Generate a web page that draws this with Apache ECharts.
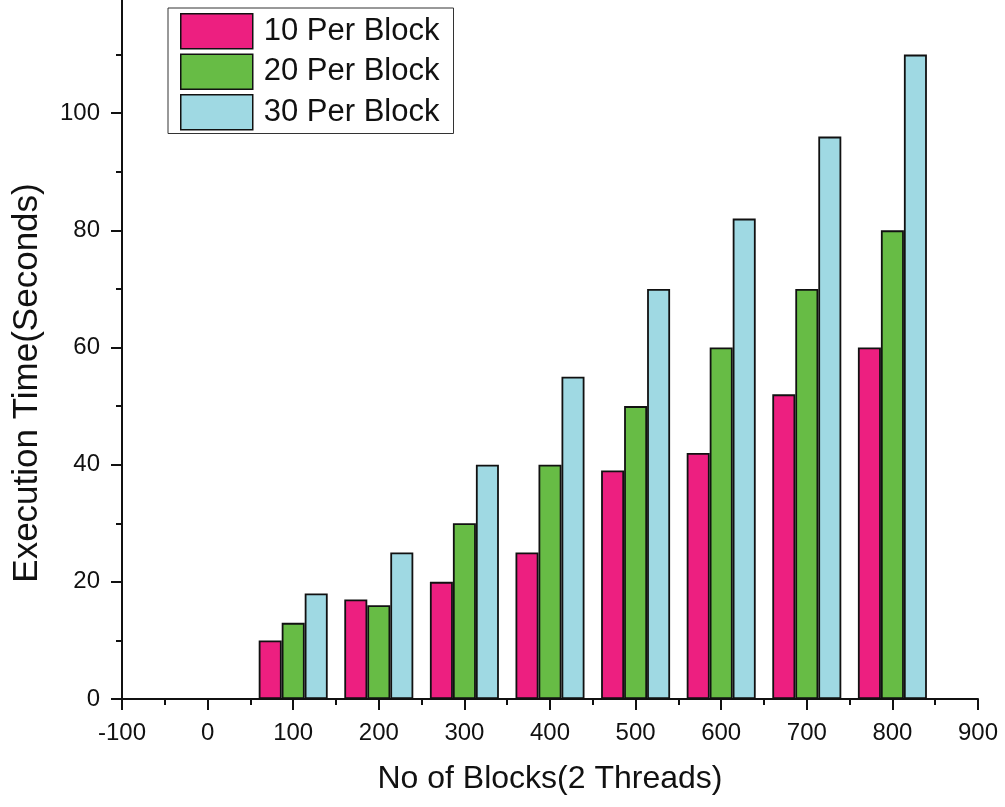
<!DOCTYPE html>
<html>
<head>
<meta charset="utf-8">
<script src="https://cdn.jsdelivr.net/npm/echarts@6/dist/echarts.min.js"></script>
<style>
html,body{margin:0;padding:0;background:#fff;}
#chart{width:1005px;height:807px;}
</style>
</head>
<body>
<div id="chart"></div>
<script>
const blocks = [100, 200, 300, 400, 500, 600, 700, 800];
const per10 = [10, 17, 20, 25, 39, 42, 52, 60];
const per20 = [13, 16, 30, 40, 50, 60, 70, 80];
const per30 = [18, 25, 40, 55, 70, 82, 96, 110];
const seriesNames = ['10 Per Block', '20 Per Block', '30 Per Block'];
const xTitle = 'No of Blocks(2 Threads)';
const yTitle = 'Execution Time(Seconds)';

const colors = ['#ED1F80', '#67BC45', '#9FD9E3'];
const font = '"Liberation Sans", Arial, sans-serif';

const chart = echarts.init(document.getElementById('chart'), null, {renderer: 'canvas'});
const pair = (vals) => blocks.map((b, i) => [b, vals[i]]);
const mk = (name, vals, color) => ({
  name: name,
  type: 'bar',
  data: pair(vals),
  barWidth: 23,
  barGap: '0%',
  itemStyle: {color: color, borderColor: '#111', borderWidth: 1.8},
  emphasis: {disabled: true}
});

chart.setOption({
  animation: false,
  backgroundColor: '#fff',
  textStyle: {fontFamily: font, color: '#111'},
  grid: {left: 122, right: 27, top: -4, bottom: 108, containLabel: false, outerBoundsMode: 'none'},
  legend: {
    orient: 'vertical',
    left: 168,
    top: 8,
    padding: [5, 14, 3, 12],
    itemWidth: 72,
    itemHeight: 35,
    itemGap: 4,
    icon: 'rect',
    borderColor: '#333',
    borderWidth: 1,
    backgroundColor: '#fff',
    data: seriesNames,
    textStyle: {fontSize: 31, fontFamily: font, color: '#111', padding: [0, 0, 0, 6]},
    itemStyle: {borderColor: '#111', borderWidth: 1.5}
  },
  xAxis: {
    type: 'value',
    min: -100,
    max: 900,
    interval: 100,
    name: xTitle,
    nameLocation: 'middle',
    nameGap: 64,
    nameTextStyle: {fontSize: 32, fontFamily: font, color: '#111'},
    axisLine: {show: true, onZero: false, lineStyle: {color: '#111', width: 2}},
    axisTick: {show: true, inside: false, length: 11, lineStyle: {color: '#111', width: 2}},
    minorTick: {show: true, splitNumber: 2, length: 6, lineStyle: {color: '#111', width: 2}},
    splitLine: {show: false},
    axisLabel: {fontSize: 24, fontFamily: font, color: '#111', margin: 22}
  },
  yAxis: {
    type: 'value',
    min: 0,
    max: 120,
    interval: 20,
    axisLine: {show: true, onZero: false, lineStyle: {color: '#111', width: 2}},
    axisTick: {show: true, inside: false, length: 11, lineStyle: {color: '#111', width: 2}},
    minorTick: {show: true, splitNumber: 2, length: 6, lineStyle: {color: '#111', width: 2}},
    splitLine: {show: false},
    axisLabel: {fontSize: 24, fontFamily: font, color: '#111', margin: 22, showMaxLabel: false}
  },
  graphic: [{
    type: 'text',
    x: 27,
    y: 383,
    rotation: Math.PI / 2,
    style: {
      text: yTitle,
      fontSize: 35,
      fontFamily: font,
      fill: '#111',
      align: 'center',
      verticalAlign: 'middle'
    }
  }],
  series: [
    mk(seriesNames[0], per10, colors[0]),
    mk(seriesNames[1], per20, colors[1]),
    mk(seriesNames[2], per30, colors[2])
  ]
});
</script>
</body>
</html>
